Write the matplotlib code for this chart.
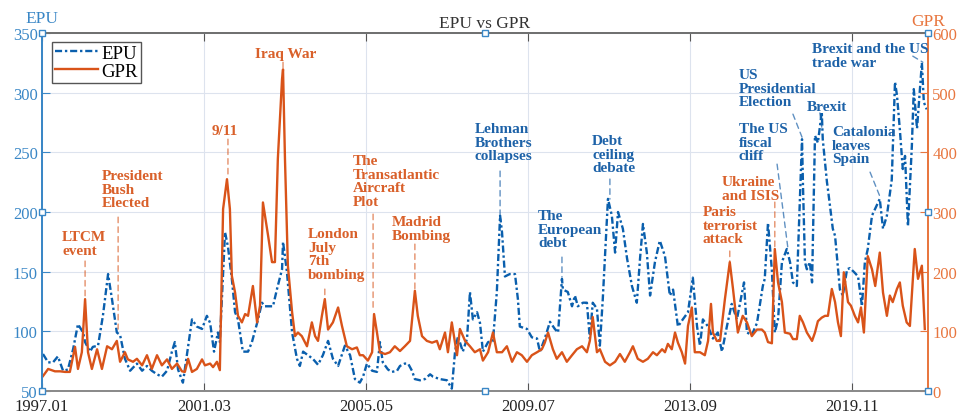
import matplotlib
matplotlib.use("Agg")

import matplotlib.pyplot as plt

# Monthly indices (months since 1997.01) and index readings
epu_month = [
    0.3, 1.9, 3.4, 4.9, 6.5, 8.0, 9.6, 11.1, 12.7, 13.3, 14.8, 15.7, 17.3, 18.8, 20.4, 21.6,
    23.1, 24.1, 25.6, 27.2, 29.3, 30.9, 32.4, 33.9, 35.5, 37.0, 38.6, 40.1, 41.0, 42.0, 43.5,
    46.3, 47.8, 49.4, 50.9, 51.9, 53.1, 54.3, 54.9, 56.5, 57.4, 58.6, 59.6, 60.5, 62.0, 63.6,
    64.8, 66.4, 67.9, 68.8, 70.4, 71.3, 72.5, 74.1, 74.4, 75.6, 77.2, 78.7, 79.6, 80.6, 82.1,
    83.6, 85.2, 86.7, 88.3, 89.8, 91.4, 93.5, 95.1, 96.6, 98.1, 99.1, 100.3, 101.9, 103.4,
    104.3, 105.2, 106.8, 108.0, 109.6, 110.5, 112.0, 113.0, 114.2, 115.1, 116.7, 118.2, 119.8,
    120.7, 122.8, 125.0, 126.5, 127.5, 128.4, 129.9, 131.2, 132.1, 133.0, 134.3, 135.2, 136.1,
    137.7, 139.2, 140.4, 141.4, 142.0, 142.9, 144.4, 146.0, 146.9, 147.5, 149.7, 151.2, 152.8,
    153.7, 155.2, 156.8, 158.3, 159.3, 160.5, 160.8, 162.3, 163.6, 164.5, 165.4, 167.0, 168.2,
    169.1, 170.0, 171.3, 172.2, 173.1, 174.7, 175.9, 176.9, 177.8, 179.3, 180.6, 182.1, 183.6,
    184.6, 185.5, 186.7, 187.7, 189.2, 190.7, 192.3, 193.8, 194.8, 196.3, 197.8, 199.4, 200.9,
    202.2, 203.1, 204.0, 205.6, 207.1, 208.6, 209.9, 211.4, 212.9, 214.5, 216.7, 217.6, 219.1,
    220.7, 222.5, 223.1, 224.1, 225.3, 226.2, 227.2, 228.4, 229.9, 230.9, 231.8, 233.0, 234.6,
    234.9, 235.5, 236.1, 237.0, 237.7, 238.6, 239.5, 240.7, 241.0, 242.3, 242.6, 244.1, 244.8,
    246.3, 247.2, 248.5, 249.4, 250.9, 251.9, 253.1, 254.0, 254.9, 256.2, 258.6, 259.6, 260.8,
    262.3, 263.3, 263.9, 264.8, 265.7, 266.4, 267.3, 268.5, 269.1, 270.1, 271.0, 271.6, 272.2,
    273.1,
]
epu_value = [
    81, 74, 74, 79, 67, 68, 85, 106, 99, 91, 83, 87, 88, 113, 148, 127,
    99, 97, 77, 67, 73, 67, 71, 67, 64, 62, 67, 83, 91, 68, 57,
    110, 104, 102, 113, 107, 83, 99, 91, 183, 171, 144, 116, 110, 83, 83,
    91, 107, 124, 121, 121, 121, 135, 152, 175, 150, 99, 77, 71, 83, 80,
    77, 72, 80, 92, 77, 71, 88, 80, 60, 57, 62, 73, 67, 66,
    91, 74, 68, 66, 67, 71, 73, 73, 67, 60, 59, 60, 64,
    62, 60, 59, 52, 83, 96, 83, 94, 133, 110, 116, 107, 83,
    91, 92, 133, 197, 183, 146, 148, 148, 127, 104, 102, 95, 94,
    83, 94, 108, 102, 99, 144, 135, 133, 121, 130, 121, 124, 124,
    94, 124, 119, 88, 127, 211, 197, 166, 200, 186, 161, 138, 124,
    161, 190, 166, 130, 158, 176, 163, 130, 135, 104, 110, 116, 145,
    104, 88, 110, 104, 94, 99, 83, 104, 123, 110, 141, 99, 97,
    107, 138, 144, 191, 151, 99, 110, 158, 169, 158, 141, 138, 261,
    222, 158, 152, 158, 141, 264, 258, 284, 261, 225, 219, 186, 180,
    135, 130, 152, 153, 149, 146, 121, 158, 169, 197, 211, 186, 197,
    227, 309, 298, 269, 236, 247, 188, 255, 303, 270, 303, 325, 292,
    286,
]

gpr_month = [
    0.3, 1.9, 4.0, 5.6, 7.1, 8.6, 10.2, 11.1, 12.3, 13.3, 14.2, 15.4, 17.0, 18.5, 20.1, 21.6,
    23.1, 24.1, 25.6, 26.5, 28.1, 29.3, 30.9, 32.4, 33.9, 35.5, 37.0, 38.6, 40.1, 41.7, 43.2,
    44.1, 45.1, 46.3, 47.8, 49.4, 50.3, 51.9, 52.8, 54.0, 54.9, 55.9, 57.1, 58.0, 58.6, 59.6,
    60.5, 61.7, 62.7, 63.6, 65.1, 66.4, 67.3, 68.2, 69.8, 71.0, 71.9, 72.8, 74.1, 74.4, 75.0,
    75.9, 77.2, 78.1, 79.0, 80.2, 81.8, 83.3, 84.3, 85.2, 86.4, 87.3, 88.3, 89.8, 91.4, 92.6,
    94.1, 95.7, 97.2, 98.1, 99.1, 100.6, 101.9, 102.5, 103.4, 104.3, 105.9, 107.4, 108.9,
    110.5, 112.0, 113.6, 115.1, 116.0, 117.3, 118.8, 120.4, 121.9, 122.8, 124.4, 125.3, 126.5,
    128.1, 129.0, 130.6, 132.1, 133.6, 135.2, 136.1, 137.7, 139.2, 140.4, 142.0, 143.5, 145.1,
    146.6, 148.1, 149.7, 151.2, 152.8, 154.3, 155.2, 156.2, 157.7, 158.9, 160.5, 162.0, 163.6,
    165.1, 166.7, 168.2, 169.1, 170.0, 171.3, 172.2, 173.8, 175.3, 176.9, 178.4, 179.9, 181.5,
    182.4, 183.9, 185.5, 187.0, 188.6, 189.8, 191.4, 192.3, 193.2, 194.4, 195.4, 196.3, 197.5,
    198.5, 199.4, 200.6, 201.5, 203.1, 204.6, 205.6, 206.5, 207.1, 208.3, 209.3, 210.8, 212.3,
    213.3, 214.8, 216.3, 217.6, 219.1, 220.7, 222.2, 223.1, 224.1, 225.3, 226.2, 227.2, 228.4,
    229.3, 230.9, 231.8, 233.0, 233.9, 234.9, 236.1, 237.7, 238.6, 239.5, 240.7, 241.7, 242.6,
    243.8, 244.8, 245.7, 246.6, 247.5, 248.8, 249.7, 250.9, 251.9, 252.8, 253.7, 254.9, 256.2,
    257.2, 258.6, 259.6, 260.8, 261.7, 262.6, 263.9, 264.8, 265.7, 266.9, 267.9, 269.4, 270.4,
    271.6, 272.5,
]
gpr_value = [
    25, 37, 33, 33, 32, 32, 74, 37, 65, 154, 65, 37, 70, 37, 75, 70,
    84, 49, 65, 53, 49, 54, 43, 60, 37, 60, 43, 53, 37, 46, 33,
    32, 54, 32, 37, 53, 43, 46, 40, 49, 35, 305, 355, 305, 193, 165,
    126, 115, 129, 126, 176, 115, 143, 316, 260, 216, 216, 389, 523, 539, 389,
    210, 132, 92, 98, 92, 75, 115, 92, 84, 126, 154, 103, 115, 140, 109,
    75, 70, 73, 60, 60, 51, 65, 129, 98, 65, 62, 65, 75,
    67, 75, 84, 168, 126, 92, 84, 81, 84, 70, 98, 65, 115,
    60, 104, 84, 75, 65, 70, 51, 65, 98, 65, 65, 75, 49,
    65, 60, 49, 60, 65, 70, 81, 98, 70, 54, 65, 49, 60,
    70, 75, 65, 84, 124, 65, 70, 49, 43, 49, 62, 49, 65,
    75, 54, 49, 54, 65, 60, 70, 65, 79, 70, 98, 81, 65,
    46, 109, 140, 65, 65, 60, 84, 146, 98, 84, 84, 154, 216,
    171, 98, 126, 115, 92, 103, 103, 98, 82, 80, 238, 182, 149,
    98, 96, 87, 87, 126, 115, 98, 84, 98, 117, 123, 126, 126,
    171, 149, 115, 92, 199, 149, 143, 126, 115, 140, 98, 226, 204,
    176, 232, 165, 126, 160, 149, 171, 182, 143, 115, 109, 238, 188,
    210, 104,
]

tick_month = [0, 50, 100, 150, 200, 250]
tick_label = ["1997.01", "2001.03", "2005.05", "2009.07", "2013.09", "2019.11"]
epu_ticks = [50, 100, 150, 200, 250, 300, 350]
gpr_ticks = [0, 100, 200, 300, 400, 500, 600]

EPU_COLOR = "#0a5fad"
GPR_COLOR = "#d95319"
EPU_AXIS = "#3a87c6"
GPR_AXIS = "#e8763f"
EPU_NOTE = "#1d62a8"
GPR_NOTE = "#d9602a"

# (label, colour, text left/top, leader top, leader bottom) in EPU-axis units
events = [
    ("LTCM\nevent", GPR_NOTE, (6.2, 184.8), (13.3, 158.9), (13.3, 127.1)),
    ("President\nBush\nElected", GPR_NOTE, (18.5, 235.9), (23.5, 195.7), (23.5, 101.9)),
    ("9/11", GPR_NOTE, (52.5, 273.6), (57.4, 261.0), (57.4, 229.2)),
    ("Iraq War", GPR_NOTE, (65.7, 338.1), (74.4, 325.5), (74.4, 319.7)),
    ("London\nJuly\n7th\nbombing", GPR_NOTE, (82.1, 187.4), (87.3, 135.4), (87.3, 127.1)),
    ("The\nTransatlantic\nAircraft\nPlot", GPR_NOTE, (96.0, 248.5), (102.2, 198.2), (102.2, 117.0)),
    ("Madrid\nBombing", GPR_NOTE, (108.0, 197.4), (115.1, 173.1), (115.1, 135.4)),
    ("Lehman\nBrothers\ncollapses", EPU_NOTE, (133.6, 275.3), (141.4, 234.3), (141.4, 198.2)),
    ("The\nEuropean\ndebt", EPU_NOTE, (153.1, 202.4), (160.5, 162.2), (160.5, 145.5)),
    ("Debt\nceiling\ndebate", EPU_NOTE, (169.8, 265.2), (175.3, 227.6), (175.3, 210.8)),
    ("Paris\nterrorist\nattack", GPR_NOTE, (204.0, 205.8), (212.3, 167.3), (212.3, 158.9)),
    ("Ukraine\nand ISIS", GPR_NOTE, (209.9, 230.9), (226.2, 208.3), (226.2, 168.9)),
    ("The US\nfiscal\ncliff", EPU_NOTE, (215.1, 275.3), (226.9, 240.1), (230.2, 170.6)),
    ("US\nPresidential\nElection", EPU_NOTE, (215.1, 320.5), (231.8, 282.0), (234.6, 262.7)),
    ("Brexit", EPU_NOTE, (236.0, 294.0), (240.1, 283.0), (240.7, 271.1)),
    ("Catalonia\nleaves\nSpain", EPU_NOTE, (243.8, 272.8), (255.6, 233.4), (258.6, 213.3)),
    ("Brexit and the US\ntrade war", EPU_NOTE, (237.7, 342.3), (268.8, 330.6), (271.9, 325.5)),
]

plt.rcParams.update({
    "font.family": ["Liberation Serif", "DejaVu Serif"],
    "font.size": 11,
})

fig = plt.figure(figsize=(9.61, 4.14), dpi=100, facecolor="white")
ax = fig.add_axes([0.0437, 0.0531, 0.922, 0.8648])
ax2 = ax.twinx()

ax.plot(epu_month, epu_value, color=EPU_COLOR, lw=1.7,
        linestyle=(0, (3, 1.2, 1, 1.2)), label="EPU")
ax2.plot(gpr_month, gpr_value, color=GPR_COLOR, lw=1.7, label="GPR")

ax.set_xlim(0, 273.5)
ax.set_ylim(50, 350)
ax2.set_ylim(0, 600)

ax.set_xticks(tick_month)
ax.set_xticklabels(tick_label)
ax.set_yticks(epu_ticks)
ax2.set_yticks(gpr_ticks)

ax.grid(True, color="#dde3ee", lw=0.8)
ax.set_axisbelow(True)

ax.tick_params(axis="x", direction="in", length=6, top=True, colors="#555555",
               labelcolor="#222222", labelsize=12, pad=5)
ax.tick_params(axis="y", direction="in", length=6, colors=EPU_AXIS, labelsize=12, pad=3)
ax2.tick_params(axis="y", direction="in", length=6, colors=GPR_AXIS, labelsize=12, pad=3)

for a in (ax, ax2):
    a.spines["top"].set_color("#707070")
    a.spines["bottom"].set_color("#8a8a8a")
    a.spines["left"].set_color(EPU_AXIS)
    a.spines["right"].set_color(GPR_AXIS)
    for s in a.spines.values():
        s.set_linewidth(1.3)

ax.set_title("EPU vs GPR", fontsize=12.5, color="#333333", pad=4)
ax.text(0.0, 1.02, "EPU", transform=ax.transAxes, ha="center", va="bottom",
        fontsize=12.5, color=EPU_AXIS)
ax.text(1.0, 1.012, "GPR", transform=ax.transAxes, ha="center", va="bottom",
        fontsize=12.5, color=GPR_AXIS)

# event labels with dashed leaders
for label, color, text_pos, lead_top, lead_end in events:
    ax2.text(text_pos[0], text_pos[1], label, transform=ax.transData,
             ha="left", va="top", fontsize=11.0, fontweight="bold",
             color=color, linespacing=1.06, zorder=5)
    ax2.annotate("", xy=lead_end, xytext=lead_top,
                 xycoords=ax.transData, textcoords=ax.transData,
                 arrowprops=dict(arrowstyle="-", color=color, lw=1.0,
                                 linestyle=(0, (4, 3)), alpha=0.7,
                                 shrinkA=0, shrinkB=0))

# selection handles on the axes box
hx = [0, 0.5, 1, 0, 1, 0, 0.5, 1]
hy = [0, 0, 0, 0.5, 0.5, 1, 1, 1]
ax2.plot(hx, hy, linestyle="none", marker="s", markersize=4,
         markerfacecolor="white", markeredgecolor="#3a87c6", markeredgewidth=1.0,
         transform=ax.transAxes, clip_on=False, zorder=10)

h1, l1 = ax.get_legend_handles_labels()
h2, l2 = ax2.get_legend_handles_labels()
leg = ax2.legend(h1 + h2, l1 + l2, loc="upper left", bbox_to_anchor=(0.011, 0.975),
                 borderaxespad=0, fontsize=13.5, frameon=True, fancybox=False,
                 edgecolor="#555555", framealpha=1, borderpad=0.15,
                 labelspacing=0.05, handlelength=2.3, handletextpad=0.2)
leg.get_frame().set_linewidth(1.0)

fig.savefig("out.png", dpi=100, facecolor="white")
